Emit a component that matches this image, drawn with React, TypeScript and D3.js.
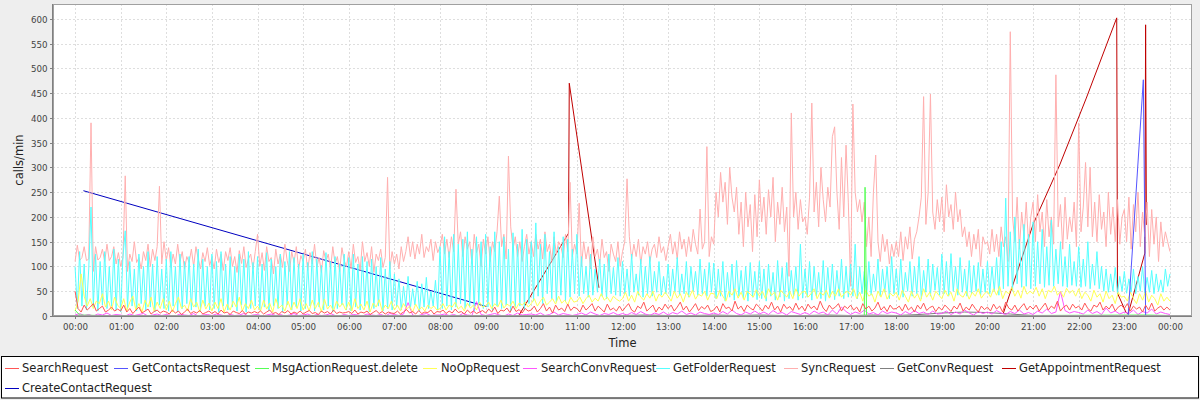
import React, { useEffect, useRef } from "react";
import * as d3 from "d3";

// hourly tick labels and y ticks
const hourLabels = d3.range(0, 25).map((h) => `${String(h % 24).padStart(2, "0")}:00`);
const yTicks = d3.range(0, 601, 50);

const seriesNames = [
  "SearchRequest",
  "GetContactsRequest",
  "MsgActionRequest.delete",
  "NoOpRequest",
  "SearchConvRequest",
  "GetFolderRequest",
  "SyncRequest",
  "GetConvRequest",
  "GetAppointmentRequest",
  "CreateContactRequest",
];

// SyncRequest, one value every 3 minutes (20 per hour)
const syncRequest = [
  110, 143, 112, 118, 140, 112, 115, 390, 90, 140, 113, 118, 135, 110, 145, 112, 120, 140, 105, 128,
  100, 118, 283, 90, 125, 110, 150, 108, 118, 95, 130, 112, 145, 100, 135, 112, 140, 262, 105, 150,
  112, 138, 98, 125, 105, 145, 110, 130, 95, 120, 108, 135, 100, 140, 115, 95, 128, 110, 138, 102,
  118, 95, 135, 108, 125, 92, 130, 112, 138, 100, 120, 88, 132, 106, 140, 98, 115, 125, 95, 130,
  165, 100, 128, 92, 140, 110, 118, 85, 135, 105, 125, 98, 145, 112, 90, 130, 108, 140, 95, 122,
  110, 135, 92, 128, 105, 145, 98, 118, 88, 132, 110, 125, 95, 140, 105, 120, 90, 138, 112, 100,
  130, 95, 145, 108, 120, 92, 150, 110, 128, 100, 140, 88, 125, 112, 135, 98, 118, 280, 95, 130,
  105, 125, 95, 140, 110, 130, 160, 120, 150, 115, 145, 125, 165, 118, 140, 130, 155, 112, 150, 128,
  140, 165, 125, 155, 118, 160, 130, 256, 145, 170, 120, 160, 135, 150, 105, 165, 128, 145, 100, 155,
  125, 160, 110, 150, 130, 170, 242, 140, 165, 115, 323, 180, 135, 160, 120, 150, 110, 140, 165, 125,
  150, 120, 165, 135, 155, 115, 170, 130, 145, 110, 160, 125, 150, 140, 118, 165, 130, 270, 120, 145,
  125, 228, 100, 150, 115, 140, 95, 160, 120, 135, 105, 155, 118, 130, 90, 145, 125, 110, 150, 100,
  130, 150, 277, 160, 115, 145, 120, 155, 105, 140, 125, 150, 110, 135, 145, 118, 160, 128, 140, 112,
  140, 165, 125, 150, 115, 170, 135, 155, 120, 160, 130, 175, 145, 125, 216, 135, 150, 342, 120, 160,
  145, 250, 200, 290, 230, 270, 185, 300, 240, 210, 260, 165, 230, 140, 250, 180, 225, 130, 245, 160,
  275, 190, 240, 165, 255, 200, 280, 150, 230, 185, 260, 170, 220, 80, 410, 200, 250, 175, 235, 190,
  200, 165, 240, 430, 210, 270, 180, 300, 235, 190, 260, 220, 362, 382, 250, 175, 320, 200, 345, 230,
  60, 428, 250, 210, 235, 190, 230, 140, 200, 120, 250, 325, 150, 110, 165, 130, 155, 105, 145, 120,
  150, 120, 170, 112, 160, 135, 180, 115, 155, 170, 200, 240, 443, 185, 250, 448, 210, 175, 235, 190,
  240, 170, 265, 200, 225, 175, 250, 190, 215, 160, 180, 140, 170, 120, 165, 135, 175, 100, 160, 145,
  150, 125, 175, 130, 165, 120, 180, 140, 160, 110, 574, 200, 150, 240, 135, 210, 160, 230, 145, 200,
  230, 150, 245, 170, 210, 140, 235, 160, 200, 145, 487, 180, 225, 135, 240, 155, 200, 170, 230, 140,
  390, 170, 220, 310, 180, 300, 160, 230, 150, 245, 175, 210, 140, 250, 165, 220, 150, 235, 145, 200,
  215, 150, 240, 135, 225, 170, 250, 140, 210, 160, 230, 120, 215, 145, 200, 110, 190, 140, 170, 150,
  130,
];

// GetFolderRequest, every 3 minutes
const getFolderRequest = [
  100, 15, 130, 20, 105, 12, 95, 220, 18, 125, 10, 110, 22, 130, 15, 100, 20, 135, 12, 115,
  8, 120, 172, 15, 110, 20, 95, 10, 125, 25, 100, 12, 130, 18, 105, 8, 120, 22, 95, 15,
  115, 10, 130, 20, 100, 8, 125, 15, 110, 25, 120, 12, 105, 18, 135, 10, 115, 20, 100, 12,
  125, 15, 110, 8, 130, 20, 105, 12, 120, 18, 100, 10, 125, 22, 115, 8, 130, 15, 108, 20,
  120, 12, 105, 18, 128, 10, 115, 20, 100, 15, 125, 8, 110, 22, 130, 12, 118, 18, 105, 10,
  125, 15, 108, 20, 130, 10, 115, 18, 102, 12, 128, 20, 110, 8, 120, 15, 105, 22, 125, 12,
  118, 10, 125, 18, 105, 12, 120, 20, 110, 8, 115, 15, 100, 20, 118, 10, 95, 15, 110, 12,
  85, 18, 75, 12, 60, 20, 80, 15, 55, 22, 70, 10, 65, 18, 78, 15, 50, 20, 72, 12,
  140, 15, 160, 20, 130, 12, 165, 18, 145, 25, 155, 15, 170, 20, 135, 10, 160, 22, 150, 15,
  165, 18, 140, 12, 170, 20, 150, 15, 160, 22, 135, 10, 168, 18, 145, 20, 175, 12, 155, 25,
  150, 30, 188, 40, 145, 25, 165, 45, 130, 35, 170, 28, 140, 42, 160, 30, 155, 38, 135, 45,
  165, 40, 120, 45, 100, 38, 125, 42, 95, 48, 115, 40, 105, 35, 125, 45, 98, 42, 118, 40,
  110, 45, 95, 40, 125, 48, 85, 42, 115, 38, 100, 45, 120, 40, 90, 48, 110, 42, 80, 45,
  105, 40, 95, 48, 118, 42, 85, 45, 110, 38, 100, 50, 90, 42, 115, 45, 95, 40, 108, 48,
  107, 35, 95, 40, 110, 30, 88, 38, 105, 32, 112, 40, 92, 35, 100, 30, 108, 38, 90, 33,
  110, 35, 95, 30, 105, 40, 88, 32, 112, 38, 98, 30, 108, 35, 92, 40, 100, 32, 145, 36,
  95, 38, 110, 32, 100, 40, 88, 35, 112, 30, 98, 38, 105, 33, 92, 40, 115, 35, 100, 38,
  105, 40, 145, 35, 100, 45, 90, 38, 110, 42, 85, 50, 115, 40, 95, 48, 100, 35, 120, 45,
  95, 42, 115, 38, 88, 50, 110, 40, 100, 45, 120, 35, 92, 48, 115, 40, 105, 52, 98, 42,
  125, 45, 110, 40, 126, 50, 100, 42, 118, 48, 95, 40, 112, 45, 102, 50, 108, 42, 95, 48,
  110, 45, 100, 50, 118, 42, 150, 55, 238, 60, 170, 50, 200, 65, 155, 58, 185, 60, 165, 55,
  190, 60, 150, 65, 175, 58, 140, 62, 194, 60, 135, 65, 150, 60, 120, 58, 145, 62, 110, 60,
  140, 58, 115, 60, 150, 55, 105, 62, 130, 55, 100, 50, 95, 48, 85, 50, 98, 46, 80, 50,
  90, 46, 75, 48, 95, 45, 80, 50, 100, 46, 78, 48, 92, 45, 85, 50, 73, 48, 95, 60,
  85,
];

// NoOpRequest, every 4 minutes (15 per hour)
const noOpRequest = [
  10, 30, 85, 40, 20, 35, 15, 30, 25, 45, 18, 30, 12, 38, 22,
  15, 35, 10, 28, 40, 12, 25, 8, 32, 18, 38, 10, 28, 15, 35,
  12, 30, 8, 25, 38, 15, 22, 10, 35, 18, 28, 8, 32, 14, 26,
  10, 28, 15, 35, 8, 24, 12, 30, 18, 38, 10, 25, 15, 32, 12,
  20, 10, 32, 14, 26, 8, 35, 16, 22, 10, 30, 12, 28, 15, 35,
  12, 25, 10, 32, 15, 28, 8, 34, 14, 22, 10, 30, 18, 26, 12,
  28, 10, 35, 15, 24, 12, 30, 8, 26, 18, 33, 10, 22, 15, 30,
  12, 22, 10, 25, 14, 20, 8, 24, 12, 18, 10, 22, 15, 20, 12,
  15, 25, 12, 22, 18, 28, 14, 20, 10, 26, 16, 22, 12, 28, 18,
  20, 28, 15, 25, 18, 32, 16, 24, 20, 30, 15, 26, 22, 28, 18,
  25, 35, 20, 30, 38, 22, 28, 35, 24, 40, 26, 32, 22, 38, 28,
  30, 38, 25, 35, 42, 28, 36, 30, 45, 32, 38, 28, 40, 34, 30,
  35, 48, 30, 42, 28, 50, 38, 32, 45, 36, 50, 30, 44, 38, 48,
  40, 30, 50, 36, 45, 28, 48, 38, 52, 34, 44, 40, 50, 32, 46,
  45, 35, 52, 40, 30, 50, 42, 55, 36, 48, 32, 50, 44, 38, 53,
  40, 50, 35, 55, 42, 48, 32, 52, 45, 38, 50, 35, 55, 40, 48,
  50, 38, 45, 55, 35, 48, 42, 52, 36, 50, 40, 55, 38, 46, 50,
  42, 55, 35, 48, 30, 52, 40, 45, 28, 50, 38, 55, 34, 46, 40,
  48, 32, 52, 40, 28, 50, 36, 45, 30, 55, 38, 48, 32, 50, 42,
  35, 52, 40, 48, 30, 55, 42, 38, 50, 34, 48, 40, 55, 36, 45,
  50, 38, 55, 42, 60, 35, 50, 45, 58, 40, 52, 36, 60, 44, 50,
  45, 58, 40, 55, 35, 52, 48, 60, 42, 50, 38, 56, 46, 52, 40,
  55, 35, 48, 42, 30, 52, 38, 45, 28, 50, 35, 42, 25, 48, 38,
  40, 30, 48, 35, 25, 45, 32, 50, 28, 42, 35, 22, 45, 30, 38,
  30,
];

// SearchRequest, every 4 minutes
const searchRequest = [
  50, 15, 8, 22, 12, 18, 25, 10, 15, 20, 8, 12, 18, 10, 14,
  10, 22, 8, 15, 5, 12, 18, 6, 10, 14, 4, 9, 12, 6, 10,
  8, 4, 12, 6, 10, 3, 8, 14, 5, 9, 6, 11, 4, 7, 10,
  5, 9, 4, 12, 6, 8, 3, 10, 7, 5, 11, 4, 8, 6, 9,
  6, 10, 4, 8, 12, 5, 7, 3, 9, 6, 11, 4, 8, 5, 10,
  4, 8, 11, 5, 7, 3, 10, 6, 9, 4, 12, 5, 8, 6, 7,
  9, 5, 12, 4, 8, 6, 10, 3, 7, 11, 5, 9, 4, 8, 6,
  5, 10, 4, 8, 13, 6, 9, 4, 11, 5, 8, 7, 12, 4, 9,
  8, 12, 5, 10, 6, 14, 7, 9, 4, 12, 6, 10, 5, 8, 11,
  6, 14, 8, 18, 5, 12, 10, 16, 7, 20, 9, 13, 6, 15, 10,
  12, 20, 8, 15, 25, 10, 18, 6, 22, 12, 16, 9, 24, 11, 18,
  15, 8, 22, 12, 18, 25, 10, 20, 14, 8, 24, 12, 16, 10, 20,
  10, 18, 25, 12, 8, 20, 15, 28, 10, 16, 22, 8, 18, 12, 24,
  15, 22, 10, 18, 28, 12, 20, 8, 16, 25, 11, 19, 14, 22, 9,
  12, 20, 8, 25, 15, 18, 10, 30, 14, 20, 9, 22, 16, 12, 24,
  18, 10, 22, 14, 28, 12, 20, 8, 24, 15, 19, 11, 26, 13, 20,
  10, 24, 15, 20, 12, 30, 16, 9, 22, 14, 18, 25, 10, 20, 15,
  22, 12, 18, 8, 25, 14, 20, 10, 16, 28, 12, 19, 9, 22, 14,
  15, 20, 10, 24, 12, 18, 8, 22, 14, 26, 11, 17, 20, 9, 18,
  12, 22, 16, 9, 20, 14, 26, 10, 18, 12, 24, 15, 8, 20, 13,
  18, 10, 24, 14, 20, 8, 28, 16, 12, 22, 10, 18, 25, 12, 20,
  14, 22, 10, 18, 26, 12, 20, 15, 30, 10, 18, 22, 12, 24, 16,
  20, 12, 26, 15, 10, 22, 18, 28, 12, 20, 14, 24, 10, 18, 22,
  15, 25, 10, 20, 14, 18, 8, 22, 12, 26, 10, 16, 20, 12, 18,
  12,
];

// SearchConvRequest, every 6 minutes (10 per hour)
const searchConvRequest = [
  2, 5, 1, 3, 0, 4, 2, 6, 1, 3,
  2, 0, 4, 1, 3, 5, 0, 2, 4, 1,
  3, 1, 0, 4, 2, 1, 5, 0, 2, 3,
  1, 4, 2, 0, 3, 1, 2, 5, 0, 2,
  3, 0, 2, 4, 1, 3, 0, 2, 5, 1,
  2, 4, 0, 3, 1, 2, 5, 1, 0, 3,
  1, 3, 2, 0, 4, 2, 1, 3, 0, 5,
  3, 1, 4, 27, 2, 0, 3, 5, 1, 2,
  2, 4, 1, 3, 0, 5, 2, 1, 29, 3,
  1, 3, 5, 2, 0, 4, 1, 6, 2, 3,
  4, 2, 6, 1, 3, 8, 2, 5, 3, 1,
  3, 6, 2, 8, 4, 1, 5, 3, 7, 2,
  5, 2, 7, 3, 9, 4, 1, 6, 3, 8,
  2, 7, 4, 10, 3, 6, 2, 8, 5, 3,
  6, 3, 9, 4, 12, 5, 2, 8, 4, 10,
  4, 8, 3, 11, 5, 7, 2, 9, 6, 3,
  7, 3, 10, 5, 8, 2, 12, 4, 18, 9,
  3, 8, 5, 12, 4, 7, 2, 10, 5, 8,
  6, 2, 9, 4, 11, 5, 8, 3, 10, 4,
  5, 10, 3, 8, 4, 12, 6, 2, 9, 5,
  8, 4, 11, 6, 3, 9, 5, 12, 4, 7,
  3, 10, 6, 14, 5, 8, 50, 11, 6, 9,
  7, 4, 12, 5, 9, 3, 16, 6, 10, 4,
  8, 5, 12, 3, 9, 6, 14, 4, 8, 5,
  3,
];

// GetConvRequest, every 30 minutes
const getConvRequest = [
  1, 0, 1, 0, 0, 1, 0, 0, 1, 0, 0, 1, 0, 0, 1, 0, 1, 0, 1, 1, 0, 1, 1, 0, 1,
  2, 1, 1, 2, 1, 2, 1, 1, 2, 1, 2, 1, 3, 6, 8, 7, 4, 1, 1, 0, 1, 0, 1, 0,
];

// sparse series: [time, calls/min]
const msgActionDelete: [string, number][] = [
  ["00:00", 12], ["00:06", 2], ["01:00", 0], ["17:18", 1], ["17:19", 260],
  ["17:21", 1], ["18:00", 0], ["23:30", 2], ["24:00", 1],
];
const getContactsRequest: [string, number][] = [
  ["00:00", 1], ["12:00", 1], ["23:05", 0], ["23:25", 477], ["23:28", 0], ["24:00", 1],
];
const getAppointmentRequest: ([string, number] | null)[] = [
  ["09:44", 2], ["10:49", 167], ["10:50", 470], ["11:29", 57], null,
  ["20:21", 6], ["21:00", 185], ["21:35", 305], ["22:10", 440], ["22:50", 602],
  ["22:51", 46], ["23:02", 8], ["23:05", 4], ["23:27", 127], ["23:28", 588], ["23:29", 184],
];
const createContactRequest: [string, number][] = [["00:11", 253], ["09:01", 19]];

const colors = ["#FF5555", "#5555FF", "#55FF55", "#FFFF55", "#FF55FF", "#55FFFF", "#FFAFAF", "#808080", "#C00000", "#0000C0"];

type Pt = { t: number; v: number } | null;

const toMin = (s: string) => {
  const [h, m] = s.split(":").map(Number);
  return h * 60 + m;
};
const regular = (vals: number[], step: number): Pt[] => vals.map((v, i) => ({ t: i * step, v }));
const sparse = (pts: ([string, number] | null)[]): Pt[] => pts.map((p) => (p ? { t: toMin(p[0]), v: p[1] } : null));

const W = 1200;
const H = 400;
const plot = { left: 53, top: 4, right: 1192, bottom: 316 };
// legend item anchors: line start, text start, row centre
const legendPos = [
  [5, 22, 368], [114, 132, 368], [255, 272, 368], [423, 441, 368], [523, 541, 368],
  [656, 673, 368], [784, 801, 368], [880, 897, 368], [1002, 1019, 368], [5, 22, 388],
];

const App = () => {
  const ref = useRef<SVGSVGElement>(null);

  useEffect(() => {
    document.body.style.margin = "0";
    const svg = d3.select(ref.current);
    svg.selectAll("*").remove();

    const x = d3.scaleLinear().domain([-29, 1469]).range([plot.left, plot.right]);
    const y = d3.scaleLinear().domain([0, 630]).range([plot.bottom, plot.top]);

    svg.append("rect").attr("width", W).attr("height", H).attr("fill", "#EEEEEE");
    svg
      .append("rect")
      .attr("x", plot.left)
      .attr("y", plot.top)
      .attr("width", plot.right - plot.left)
      .attr("height", plot.bottom - plot.top)
      .attr("fill", "white");

    // grid
    const grid = svg.append("g").attr("stroke", "#dedede").attr("stroke-dasharray", "2,2").attr("stroke-width", 1);
    hourLabels.forEach((_, h) => {
      const px = Math.round(x(h * 60)) + 0.5;
      grid.append("line").attr("x1", px).attr("x2", px).attr("y1", plot.top).attr("y2", plot.bottom);
    });
    yTicks.forEach((v) => {
      const py = Math.round(y(v)) + 0.5;
      grid.append("line").attr("x1", plot.left).attr("x2", plot.right).attr("y1", py).attr("y2", py);
    });

    const series: Pt[][] = [
      regular(searchRequest, 4),
      sparse(getContactsRequest),
      sparse(msgActionDelete),
      regular(noOpRequest, 4),
      regular(searchConvRequest, 6),
      regular(getFolderRequest, 3),
      regular(syncRequest, 3),
      regular(getConvRequest, 30),
      sparse(getAppointmentRequest),
      sparse(createContactRequest),
    ];

    svg
      .append("clipPath")
      .attr("id", "plotclip")
      .append("rect")
      .attr("x", plot.left)
      .attr("y", plot.top)
      .attr("width", plot.right - plot.left)
      .attr("height", plot.bottom - plot.top);

    const line = d3
      .line<Pt>()
      .defined((d) => d !== null)
      .x((d) => x(d!.t))
      .y((d) => y(d!.v));

    const lines = svg.append("g").attr("clip-path", "url(#plotclip)");
    // JFreeChart draws the series in reverse order, first one on top
    for (let i = series.length - 1; i >= 0; i--) {
      lines
        .append("path")
        .attr("d", line(series[i]))
        .attr("fill", "none")
        .attr("stroke", colors[i])
        .attr("stroke-width", 1);
    }

    // outline + axes
    svg
      .append("rect")
      .attr("x", plot.left + 0.5)
      .attr("y", plot.top + 0.5)
      .attr("width", plot.right - plot.left - 1)
      .attr("height", plot.bottom - plot.top - 1)
      .attr("fill", "none")
      .attr("stroke", "#a0a0a0");
    svg.append("line").attr("x1", plot.left - 0.5).attr("x2", plot.left - 0.5).attr("y1", plot.top).attr("y2", plot.bottom + 1).attr("stroke", "#808080");
    svg.append("line").attr("x1", plot.left).attr("x2", plot.right).attr("y1", plot.bottom + 0.5).attr("y2", plot.bottom + 0.5).attr("stroke", "#808080");

    const tickFont = "DejaVu Sans, sans-serif";
    hourLabels.forEach((lab, h) => {
      const px = Math.round(x(h * 60)) + 0.5;
      svg.append("line").attr("x1", px).attr("x2", px).attr("y1", plot.bottom + 1).attr("y2", plot.bottom + 3).attr("stroke", "#808080");
      svg
        .append("text")
        .attr("x", px)
        .attr("y", 329.5)
        .attr("text-anchor", "middle")
        .attr("font-family", tickFont)
        .attr("font-size", 8.7)
        .attr("fill", "#444")
        .text(lab);
    });
    yTicks.forEach((v) => {
      const py = Math.round(y(v)) + 0.5;
      svg.append("line").attr("x1", plot.left - 3).attr("x2", plot.left - 1).attr("y1", py).attr("y2", py).attr("stroke", "#808080");
      svg
        .append("text")
        .attr("x", 47.5)
        .attr("y", py + 3)
        .attr("text-anchor", "end")
        .attr("font-family", tickFont)
        .attr("font-size", 8.7)
        .attr("fill", "#444")
        .text(v);
    });

    svg
      .append("text")
      .attr("transform", `translate(22.5, ${(plot.top + plot.bottom) / 2}) rotate(-90)`)
      .attr("text-anchor", "middle")
      .attr("font-family", tickFont)
      .attr("font-size", 11.5)
      .attr("fill", "#222")
      .text("calls/min");
    svg
      .append("text")
      .attr("x", (plot.left + plot.right) / 2)
      .attr("y", 347)
      .attr("text-anchor", "middle")
      .attr("font-family", tickFont)
      .attr("font-size", 11.5)
      .attr("fill", "#222")
      .text("Time");

    // legend
    svg.append("rect").attr("x", 1.5).attr("y", 356.5).attr("width", 1197).attr("height", 41.5).attr("fill", "white").attr("stroke", "#000");
    seriesNames.forEach((name, i) => {
      const [lx, tx, ly] = legendPos[i];
      svg.append("line").attr("x1", lx).attr("x2", lx + 14).attr("y1", ly + 0.5).attr("y2", ly + 0.5).attr("stroke", colors[i]);
      svg
        .append("text")
        .attr("x", tx)
        .attr("y", ly + 4.3)
        .attr("font-family", tickFont)
        .attr("font-size", 11.5)
        .attr("fill", "#222")
        .text(name);
    });
  }, []);

  return <svg ref={ref} width={W} height={H} style={{ display: "block" }} />;
};

export default App;
